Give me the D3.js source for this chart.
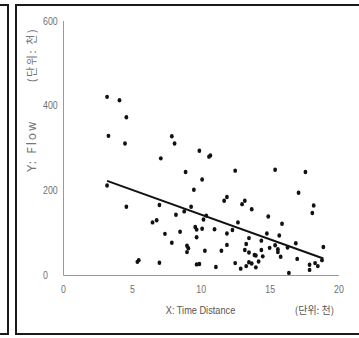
<!DOCTYPE html>
<html>
<head>
<meta charset="utf-8">
<script src="https://cdn.jsdelivr.net/npm/d3@7"></script>
<style>
  html, body { margin: 0; padding: 0; background: #fff; }
  svg { display: block; }
</style>
</head>
<body>
<svg id="chart" width="359" height="338"></svg>
<script>
// Observations: time distance (thousands) vs. flow (thousands)
const timeDistance = [
  3.2, 4.1, 4.6, 3.3, 4.5, 7.9, 8.1, 7.1, 9.9, 10.6, 10.7, 8.9, 10.1, 12.5, 15.4, 17.6,
  3.2, 4.6, 6.5, 6.8, 5.4, 5.5, 7.0, 7.0, 9.5, 11.9, 11.7, 13.2, 13.0, 9.3, 8.2, 8.8,
  10.4, 10.2, 12.7, 9.6, 9.7, 10.1, 11.0, 12.3, 7.4, 8.5, 11.9, 9.7, 7.9, 9.0, 9.1, 11.9,
  13.3, 13.5, 9.0, 10.3, 11.5, 13.2, 13.5, 9.7, 9.9, 11.1, 12.5, 12.9, 13.3, 13.5, 17.1, 18.2,
  18.1, 13.7, 14.9, 15.9, 14.8, 15.7, 14.4, 16.9, 13.9, 14.0, 14.4, 14.5, 15.0, 15.4, 15.6, 15.6,
  15.8, 16.3, 18.9, 17.0, 14.2, 14.0, 13.7, 16.4, 17.9, 17.9, 18.3, 18.5, 18.8
];
const flow = [
  420, 412, 372, 328, 310, 327, 310, 275, 293, 279, 282, 243, 225, 246, 248, 243,
  211, 161, 124, 129, 31, 35, 29, 165, 201, 184, 175, 175, 167, 161, 142, 150,
  140, 131, 124, 113, 107, 109, 108, 106, 97, 102, 98, 89, 76, 69, 63, 71,
  73, 87, 54, 57, 57, 59, 53, 25, 26, 19, 28, 15, 21, 30, 194, 164,
  146, 155, 138, 121, 98, 93, 81, 75, 47, 46, 59, 44, 64, 70, 61, 54,
  43, 65, 66, 38, 32, 18, 27, 5, 24, 12, 28, 21, 35
];

// Fitted trend line endpoints
const trendX = [3.2, 18.9];
const trendY = [222, 39];

// Axis ticks
const xTicks = [0, 5, 10, 15, 20];
const yTicks = [0, 200, 400, 600];

const svg = d3.select("#chart");

// Panel frames
svg.append("rect")
  .attr("x", -60).attr("y", 5).attr("width", 68).attr("height", 329)
  .attr("fill", "none").attr("stroke", "#1a1a1a").attr("stroke-width", 2);
svg.append("rect")
  .attr("x", 16).attr("y", 5).attr("width", 400).attr("height", 329)
  .attr("fill", "none").attr("stroke", "#1a1a1a").attr("stroke-width", 2);

const x = d3.scaleLinear().domain([0, 20]).range([63, 338.5]);
const y = d3.scaleLinear().domain([0, 600]).range([275, 20.5]);

// Condensed look: regular sans squeezed horizontally
const narrow = 0.8;
const tickFont = "'Liberation Sans', Arial, sans-serif";

// X axis
const gx = svg.append("g")
  .attr("transform", `translate(0,${y(0)})`)
  .call(d3.axisBottom(x).tickValues(xTicks).tickSize(0).tickFormat(d3.format("d")));
gx.select(".domain").attr("stroke", "#9a9a9a").attr("stroke-width", 1);
gx.selectAll("text")
  .attr("y", 14).attr("dy", "0.35em")
  .attr("transform", `scale(${narrow},1)`)
  .attr("fill", "#707070")
  .style("font-family", tickFont).style("font-size", "11px");

// Y axis (labels left-aligned)
const gy = svg.append("g")
  .attr("transform", `translate(${x(0)},0)`)
  .call(d3.axisLeft(y).tickValues(yTicks).tickSize(0).tickFormat(d3.format("d")));
gy.select(".domain").attr("stroke", "#9a9a9a").attr("stroke-width", 1);
gy.selectAll("text")
  .attr("x", -20 / narrow).attr("text-anchor", "start")
  .attr("transform", `scale(${narrow},1)`)
  .attr("fill", "#707070")
  .style("font-family", tickFont).style("font-size", "11px");

// Axis titles
svg.append("text")
  .attr("transform", "translate(36,146) rotate(-90)")
  .attr("text-anchor", "middle")
  .attr("fill", "#777")
  .style("font-family", "'DejaVu Sans', sans-serif")
  .style("font-size", "12px")
  .style("letter-spacing", "1.6px")
  .text("Y: Flow");

svg.append("text")
  .attr("transform", "translate(36,55) rotate(-90)")
  .attr("text-anchor", "middle")
  .attr("fill", "#777")
  .style("font-family", "'Noto Sans CJK KR', sans-serif")
  .style("font-size", "11px")
  .style("letter-spacing", "1.6px")
  .text("(단위: 천)");

svg.append("text")
  .attr("transform", `translate(200.5,310) scale(${narrow},1)`)
  .attr("dy", "0.35em")
  .attr("text-anchor", "middle")
  .attr("fill", "#555")
  .style("font-family", tickFont)
  .style("font-size", "11.5px")
  .text("X: Time Distance");

svg.append("text")
  .attr("x", 314.5).attr("y", 310).attr("dy", "0.35em")
  .attr("text-anchor", "middle")
  .attr("fill", "#555")
  .style("font-family", "'Noto Sans CJK KR', sans-serif")
  .style("font-size", "10px")
  .text("(단위: 천)");

// Points
const points = timeDistance.map((d, i) => ({ x: d, y: flow[i] }));
svg.append("g")
  .selectAll("ellipse")
  .data(points)
  .join("ellipse")
  .attr("cx", d => x(d.x))
  .attr("cy", d => y(d.y))
  .attr("rx", 1.9)
  .attr("ry", 2.2)
  .attr("fill", "#111");

// Trend line
const trend = trendX.map((d, i) => [d, trendY[i]]);
svg.append("path")
  .datum(trend)
  .attr("d", d3.line().x(d => x(d[0])).y(d => y(d[1])))
  .attr("fill", "none")
  .attr("stroke", "#111")
  .attr("stroke-width", 2);
</script>
</body>
</html>
